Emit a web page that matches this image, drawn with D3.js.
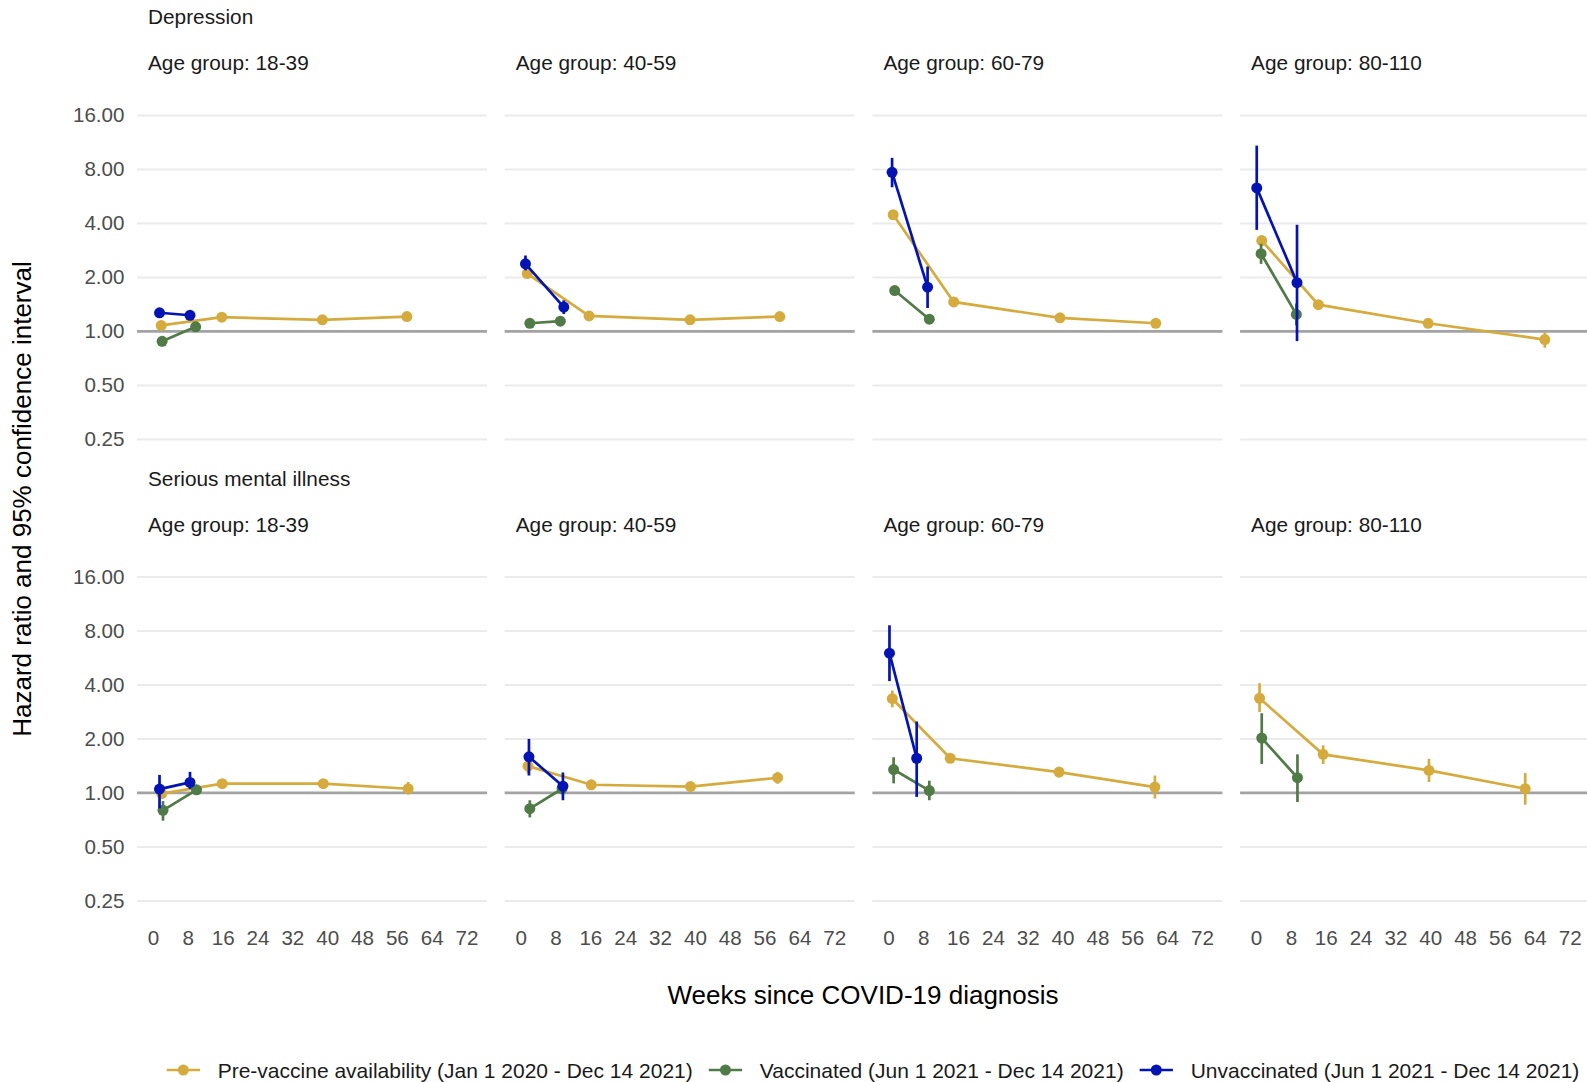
<!DOCTYPE html>
<html><head><meta charset="utf-8">
<script src="https://cdn.jsdelivr.net/npm/d3@7"></script>
<style>
html,body{margin:0;padding:0;background:#fff;}
svg{display:block;font-family:"Liberation Sans",Arial,Helvetica,sans-serif;}
</style></head>
<body><svg id="chart" width="1587" height="1082"></svg>
<script>
// ---------------- data ----------------
const outcomes = ["Depression", "Serious mental illness"];
const ageGroups = ["18-39", "40-59", "60-79", "80-110"];
const seriesNames = [
  "Pre-vaccine availability (Jan 1 2020 - Dec 14 2021)",
  "Vaccinated (Jun 1 2021 - Dec 14 2021)",
  "Unvaccinated (Jun 1 2021 - Dec 14 2021)"
];
const seriesColors = ["#D6AB3E", "#507A46", "#0414B4"];
const yTicks = [0.25, 0.5, 1, 2, 4, 8, 16];
const xTicks = [0, 8, 16, 24, 32, 40, 48, 56, 64, 72];

// rows: [outcome, ageGroup, week, HR, lower, upper]
const preVaccine = [
  [0,0, 1.9,1.08,1.04,1.12],[0,0,15.8,1.20,1.17,1.23],[0,0,38.9,1.16,1.13,1.19],[0,0,58.3,1.21,1.17,1.25],
  [0,1, 1.5,2.10,2.02,2.18],[0,1,15.7,1.22,1.19,1.25],[0,1,38.9,1.16,1.13,1.19],[0,1,59.5,1.21,1.16,1.26],
  [0,2, 1.1,4.47,4.30,4.65],[0,2,15.0,1.46,1.42,1.50],[0,2,39.4,1.19,1.15,1.23],[0,2,61.4,1.11,1.07,1.15],
  [0,3, 1.3,3.21,3.01,3.42],[0,3,14.3,1.41,1.36,1.47],[0,3,39.5,1.11,1.05,1.18],[0,3,66.3,0.90,0.81,0.99],
  [1,0, 2.0,0.99,0.94,1.04],[1,0,15.9,1.125,1.09,1.16],[1,0,39.1,1.125,1.09,1.16],[1,0,58.6,1.055,0.98,1.15],
  [1,1, 1.7,1.41,1.28,1.55],[1,1,16.2,1.11,1.07,1.15],[1,1,39.0,1.085,1.04,1.13],[1,1,59.0,1.215,1.125,1.31],
  [1,2, 0.9,3.35,3.00,3.72],[1,2,14.2,1.56,1.48,1.65],[1,2,39.2,1.306,1.22,1.39],[1,2,61.2,1.077,0.93,1.25],
  [1,3, 0.8,3.37,2.82,4.09],[1,3,15.4,1.64,1.45,1.84],[1,3,39.7,1.335,1.15,1.55],[1,3,61.8,1.055,0.86,1.29]
];
const vaccinated = [
  [0,0, 2.1,0.88,0.85,0.91],[0,0, 9.8,1.06,1.02,1.10],
  [0,1, 2.1,1.11,1.07,1.15],[0,1, 9.1,1.14,1.10,1.18],
  [0,2, 1.45,1.69,1.62,1.76],[0,2, 9.4,1.17,1.12,1.22],
  [0,3, 1.15,2.71,2.38,3.08],[0,3, 9.25,1.244,1.08,1.43],
  [1,0, 2.3,0.80,0.70,0.90],[1,0,10.0,1.04,1.00,1.09],
  [1,1, 2.1,0.817,0.73,0.91],[1,1, 9.5,1.055,1.00,1.11],
  [1,2, 1.2,1.35,1.13,1.58],[1,2, 9.4,1.03,0.91,1.17],
  [1,3, 1.3,2.02,1.45,2.78],[1,3, 9.5,1.215,0.89,1.64]
];
const unvaccinated = [
  [0,0, 1.5,1.27,1.21,1.35],[0,0, 8.5,1.23,1.18,1.28],
  [0,1, 1.1,2.38,2.19,2.65],[0,1, 9.9,1.366,1.25,1.49],
  [0,2, 0.85,7.71,6.36,9.28],[0,2, 9.0,1.765,1.35,2.30],
  [0,3, 0.15,6.31,3.68,10.86],[0,3, 9.4,1.87,0.883,3.93],
  [1,0, 1.5,1.05,0.82,1.26],[1,0, 8.5,1.144,1.05,1.31],
  [1,1, 1.9,1.59,1.25,2.00],[1,1, 9.7,1.09,0.91,1.30],
  [1,2, 0.25,6.01,4.20,8.60],[1,2, 6.5,1.56,0.95,2.50]
];
const allSeries = [preVaccine, vaccinated, unvaccinated];

// ---------------- layout ----------------
const svg = d3.select("#chart");
const panelW = 350, panelStep = 367.7, panelX0 = 137;
const rowTop = [115.4, 576.9];
const plotH = 324;
const FS = 20.6, FT = 26, FSTRIP = 20.8, FLEG = 21;

const x = d3.scaleLinear().domain([-3.67, 76.7]).range([0, panelW]);
const y = d3.scaleLog().base(2).domain([0.25, 16]).range([plotH, 0]);

svg.append("rect").attr("width",1587).attr("height",1082).attr("fill","#fff");

outcomes.forEach((oc, oi) => {
  // row title
  svg.append("text").attr("x", panelX0 + 11).attr("y", rowTop[oi] - 91.1)
    .attr("font-size", FSTRIP).attr("fill", "#1a1a1a").text(oc);
  ageGroups.forEach((ag, ai) => {
    const g = svg.append("g")
      .attr("transform", `translate(${panelX0 + ai*panelStep},${rowTop[oi]})`);
    g.append("text").attr("x", 11).attr("y", -45.4)
      .attr("font-size", FSTRIP).attr("fill", "#1a1a1a").text("Age group: " + ag);
    // gridlines
    g.selectAll("line.grid").data(yTicks).enter().append("line")
      .attr("x1", 0).attr("x2", panelW)
      .attr("y1", d => y(d)).attr("y2", d => y(d))
      .attr("stroke", "#EBEBEB").attr("stroke-width", 2);
    // reference line at HR=1
    g.append("line").attr("x1", 0).attr("x2", panelW)
      .attr("y1", y(1)).attr("y2", y(1))
      .attr("stroke", "#A3A3A3").attr("stroke-width", 2.6);
    // y-axis labels (first column)
    if (ai === 0) {
      const ya = d3.axisLeft(y).tickValues(yTicks).tickFormat(d3.format(".2f")).tickSize(0).tickPadding(12.5);
      const ag2 = g.append("g").call(ya);
      ag2.select(".domain").remove();
      ag2.selectAll("text").attr("font-size", FS).attr("fill", "#4D4D4D")
        .attr("font-family", '"Liberation Sans",Arial,sans-serif');
    }
    // x-axis labels (bottom row)
    if (oi === 1) {
      const xa = d3.axisBottom(x).tickValues(xTicks).tickFormat(d3.format("d")).tickSize(0).tickPadding(0);
      const ax = g.append("g").attr("transform", `translate(0,${plotH + 37})`).call(xa);
      ax.select(".domain").remove();
      ax.selectAll("text").attr("font-size", FS).attr("fill", "#4D4D4D").attr("dy", "0.35em")
        .attr("y", 0).attr("font-family", '"Liberation Sans",Arial,sans-serif');
    }
    // series
    allSeries.forEach((ser, si) => {
      const pts = ser.filter(r => r[0] === oi && r[1] === ai).sort((a,b)=>a[2]-b[2]);
      if (!pts.length) return;
      const col = seriesColors[si];
      const line = d3.line().x(d => x(d[2])).y(d => y(d[3]));
      g.append("path").datum(pts).attr("d", line)
        .attr("fill", "none").attr("stroke", col).attr("stroke-width", 2.7);
      g.selectAll(null).data(pts).enter().append("line")
        .attr("x1", d => x(d[2])).attr("x2", d => x(d[2]))
        .attr("y1", d => y(d[4])).attr("y2", d => y(d[5]))
        .attr("stroke", col).attr("stroke-width", 2.7);
      g.selectAll(null).data(pts).enter().append("circle")
        .attr("cx", d => x(d[2])).attr("cy", d => y(d[3])).attr("r", 5.5)
        .attr("fill", col);
    });
  });
});

// axis titles
svg.append("text").attr("transform", "translate(31,499) rotate(-90)")
  .attr("text-anchor", "middle").attr("font-size", FT).attr("fill", "#000")
  .text("Hazard ratio and 95% confidence interval");
svg.append("text").attr("x", 863).attr("y", 1004)
  .attr("text-anchor", "middle").attr("font-size", FT).attr("fill", "#000")
  .text("Weeks since COVID-19 diagnosis");

// legend
const leg = svg.append("g").attr("transform", "translate(0,1070)");
let lx = 166.7;
seriesNames.forEach((nm, si) => {
  const col = seriesColors[si];
  leg.append("line").attr("x1", lx).attr("x2", lx + 33.3).attr("y1", 0).attr("y2", 0)
    .attr("stroke", col).attr("stroke-width", 2.7);
  leg.append("circle").attr("cx", lx + 16.65).attr("cy", 0).attr("r", 5.5).attr("fill", col);
  const t = leg.append("text").attr("x", lx + 51).attr("y", 7.5)
    .attr("font-size", FLEG).attr("fill", "#1a1a1a").text(nm);
  const w = t.node().getComputedTextLength();
  lx = lx + 51 + w + 16;
});
</script>
</body></html>
